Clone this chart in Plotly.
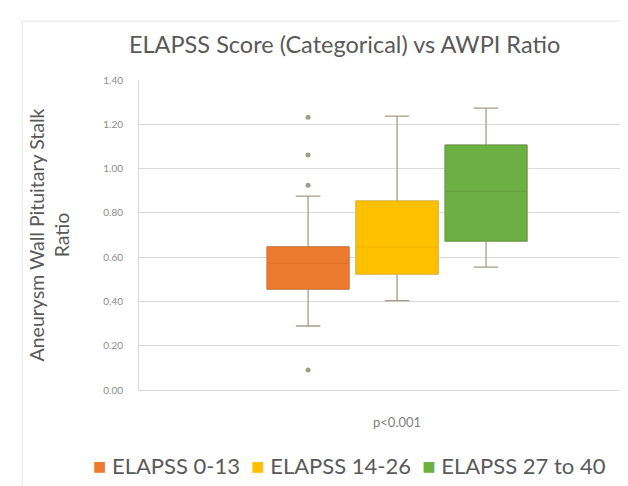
import plotly.graph_objects as go

# ---- data ----
categories = ["ELAPSS 0-13", "ELAPSS 14-26", "ELAPSS 27 to 40"]
q1_vals = [0.456, 0.524, 0.673]
median_vals = [0.573, 0.646, 0.898]
q3_vals = [0.646, 0.853, 1.106]
lower_whisker = [0.289, 0.404, 0.555]
upper_whisker = [0.876, 1.237, 1.273]
outlier_values = [[1.232, 1.061, 0.925, 0.090], [], []]
x_tick_label = ["p<0.001"]
y_ticks = [0.0, 0.2, 0.4, 0.6, 0.8, 1.0, 1.2, 1.4]

fill_colors = ["#EE7A30", "#FFC000", "#6CB043"]
median_colors = ["#E06C24", "#F2B400", "#619F3A"]
whisker_color = "#A29E86"
text_color = "#595959"
font_family = "Lato, 'Open Sans', sans-serif"

fig = go.Figure()
positions = list(range(len(categories)))

# whiskers (gray lines, transparent box)
for i, name in enumerate(categories):
    fig.add_trace(go.Box(
        x=[positions[i]], q1=[q1_vals[i]], median=[median_vals[i]], q3=[q3_vals[i]],
        lowerfence=[lower_whisker[i]], upperfence=[upper_whisker[i]],
        width=0.92, whiskerwidth=0.3, boxpoints=False,
        fillcolor="rgba(0,0,0,0)", line=dict(color=whisker_color, width=1.3),
        showlegend=False, hoverinfo="skip", name=name + " whiskers",
    ))

# filled boxes
for i, name in enumerate(categories):
    fig.add_trace(go.Box(
        x=[positions[i]], q1=[q1_vals[i]], median=[median_vals[i]], q3=[q3_vals[i]],
        lowerfence=[q1_vals[i]], upperfence=[q3_vals[i]],
        width=0.92, whiskerwidth=0, boxpoints=False,
        fillcolor=fill_colors[i], line=dict(color=median_colors[i], width=1),
        name=name, showlegend=False,
    ))

# outliers
for i, name in enumerate(categories):
    if outlier_values[i]:
        fig.add_trace(go.Scatter(
            x=[positions[i]] * len(outlier_values[i]), y=outlier_values[i],
            mode="markers", marker=dict(color=whisker_color, size=5),
            showlegend=False, name=name + " outliers",
        ))

# legend (Excel-style: small square swatch directly before each label)
legend_parts = []
for i, name in enumerate(categories):
    legend_parts.append(
        f"<span style='color:{fill_colors[i]}'>■</span>&nbsp;{name}")
legend_text = "&nbsp;&nbsp;".join(legend_parts)

fig.update_layout(
    width=628, height=486,
    margin=dict(l=131, r=0, t=72, b=104),
    paper_bgcolor="white", plot_bgcolor="white",
    boxmode="overlay",
    showlegend=False,
    font=dict(family=font_family, color=text_color),
    title=dict(text="ELAPSS Score (Categorical) vs AWPI Ratio",
               x=0.536, xref="container", xanchor="center",
               y=0.925, yref="container", yanchor="middle",
               font=dict(size=23.5, color=text_color, family=font_family)),
    xaxis=dict(range=[-1.9, 3.685], tickvals=[1], ticktext=x_tick_label,
               showgrid=False, zeroline=False, showline=True, automargin=False,
               linecolor="#D9D9D9", linewidth=1, ticks="",
               tickfont=dict(size=13, color="#7F7F7F"), ticklabelstandoff=20),
    yaxis=dict(range=[0, 1.4], tickvals=y_ticks, tickformat=".2f",
               showgrid=True, gridcolor="#D9D9D9", gridwidth=1, automargin=False,
               zeroline=False, showline=True, linecolor="#D9D9D9", linewidth=1,
               ticks="", tickfont=dict(size=10, color="#8C8C8C"),
               ticklabelstandoff=13,
               title=dict(text="Aneurysm Wall Pituitary Stalk<br>Ratio",
                          font=dict(size=19.5, color=text_color, family=font_family),
                          standoff=28)),
    annotations=[dict(text=legend_text, xref="paper", yref="paper",
                      x=0.4245, y=-0.245, xanchor="center", yanchor="middle",
                      showarrow=False,
                      font=dict(size=22, color=text_color, family=font_family))],
    shapes=[dict(type="rect", xref="paper", yref="paper",
                 x0=-0.235, x1=1.2, y0=-0.45, y1=1.19,
                 line=dict(color="#E6E6E6", width=1), fillcolor="rgba(0,0,0,0)",
                 layer="below")],
)

fig.write_html("out.html")
